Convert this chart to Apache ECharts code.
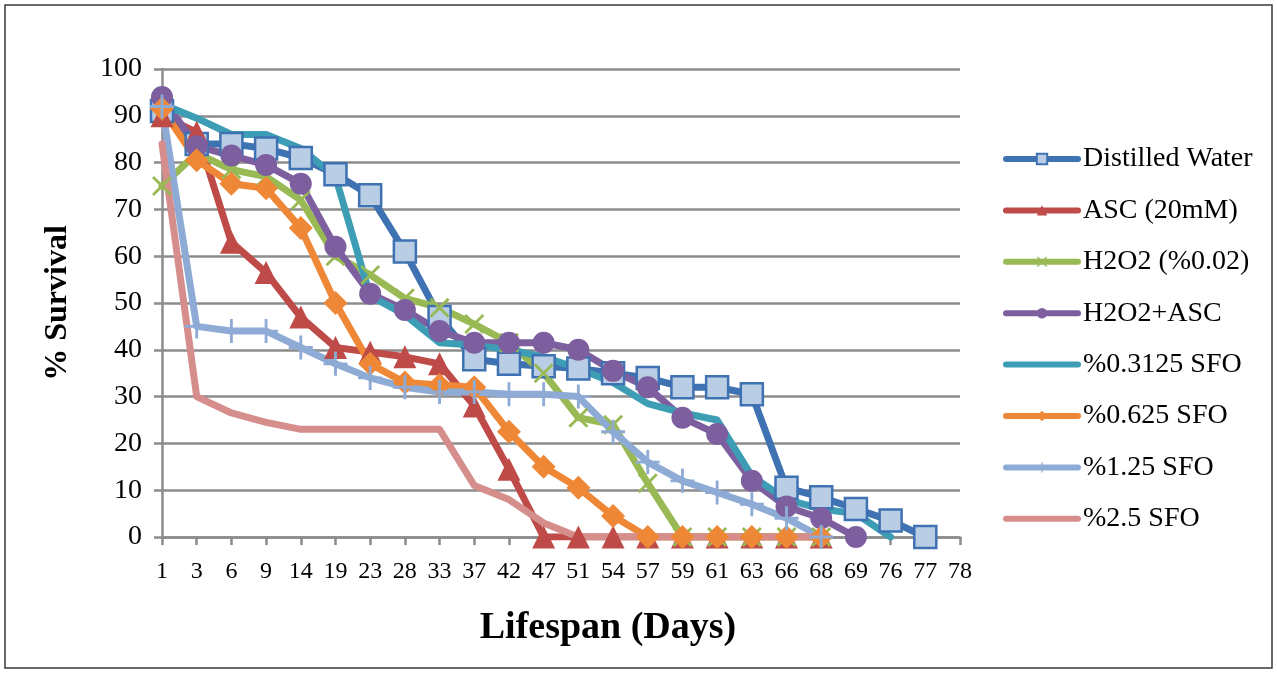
<!DOCTYPE html>
<html>
<head>
<meta charset="utf-8">
<script src="https://cdn.jsdelivr.net/npm/echarts@6/dist/echarts.min.js"></script>
<style>
  html, body { margin: 0; padding: 0; background: #fff; }
  #chart { width: 1277px; height: 675px; }
</style>
</head>
<body>
<div id="chart"></div>
<script>
// Lifespan (days) on the category axis
const days = ['1','3','6','9','14','19','23','28','33','37','42','47','51','54','57','59','61','63','66','68','69','76','77','78'];

// % survival for each treatment
const distilledWater = [91, 84, 84, 83, 81, 77.5, 73, 61, 47, 38, 37, 36.5, 36, 35, 34, 32, 32, 30.5, 10.5, 8.5, 6, 3.5, 0, null];
const asc20mM        = [90, 86.5, 63, 56.5, 47, 40.5, 39.5, 38.5, 37, 28, 14.5, 0, 0, 0, 0, 0, 0, 0, 0, 0, null, null, null, null];
const h2o2           = [75, 82, 78.5, 77, 72, 60, 56, 51, 49, 45.5, 41.5, 35, 25.5, 24, 11.5, 0, 0, 0, 0, 0, null, null, null, null];
const h2o2Asc        = [94, 83.5, 81.5, 79.5, 75.5, 62, 52, 48.5, 44, 41.5, 41.5, 41.5, 40, 35.5, 32, 25.5, 22, 12, 6.5, 4, 0, null, null, null];
const sfo03125       = [92.5, 89.5, 86, 86, 83, 77, 51.5, 47.5, 41.5, 41, 40, 38.5, 36, 33, 28.5, 26.5, 25, 13, 8, 6, 5, 0, null, null];
const sfo0625        = [91.5, 80.5, 75.5, 74.5, 66, 50, 37, 33, 32.5, 32, 22.5, 15, 10.5, 4.5, 0, 0, 0, 0, 0, 0, null, null, null, null];
const sfo125         = [92, 45, 44, 44, 40.5, 37, 34, 32, 31, 31, 30.5, 30.5, 30, 22.5, 16, 12, 9.5, 7, 4, 0, null, null, null, null];
const sfo25          = [84, 30, 26.5, 24.5, 23, 23, 23, 23, 23, 11, 8, 3, 0, 0, 0, 0, 0, 0, 0, 0, null, null, null, null];

const yTicks = { min: 0, max: 100, interval: 10 };

const serif = 'Liberation Serif';
const gridGray = '#8c8c8c';
const lineWidth = 7;
const crossPath = 'path://M0,1 L1,0 L5,4 L9,0 L10,1 L6,5 L10,9 L9,10 L5,6 L1,10 L0,9 L4,5 Z';
const plusPath = 'path://M4.4,0 H5.6 V4.4 H10 V5.6 H5.6 V10 H4.4 V5.6 H0 V4.4 H4.4 Z';

function lineSeries(name, data, lineColor, symbol, size, fill, border) {
  return {
    name: name,
    type: 'line',
    data: data,
    symbol: symbol,
    symbolSize: size,
    showSymbol: symbol !== 'none',
    connectNulls: false,
    lineStyle: { color: lineColor, width: lineWidth, cap: 'round', join: 'round' },
    itemStyle: {
      color: fill,
      borderColor: border || fill,
      borderWidth: border ? 2.5 : 0
    },
    emphasis: { disabled: true }
  };
}

const legendNames = ['Distilled Water', 'ASC (20mM)', 'H2O2 (%0.02)', 'H2O2+ASC', '%0.3125 SFO', '%0.625 SFO', '%1.25 SFO', '%2.5 SFO'];
const plainLineSeries = ['%0.3125 SFO', '%2.5 SFO'];

const chart = echarts.init(document.getElementById('chart'), null, { renderer: 'canvas' });

chart.setOption({
  animation: false,
  backgroundColor: '#ffffff',
  graphic: [{
    type: 'rect',
    shape: { x: 5, y: 5, width: 1267, height: 663 },
    style: { fill: 'none', stroke: '#3a3a3a', lineWidth: 1.5 },
    silent: true
  }, {
    type: 'text',
    x: 608,
    y: 628,
    style: {
      text: 'Lifespan (Days)',
      fontFamily: serif, fontSize: 38, fontWeight: 'bold', fill: '#000',
      align: 'center', verticalAlign: 'middle'
    },
    silent: true
  }],
  grid: { left: 162, right: 317, top: 69, bottom: 138 },
  legend: {
    orient: 'vertical',
    left: 1003,
    top: 145,
    padding: 0,
    itemWidth: 72,
    itemHeight: 13,
    itemGap: 23.4,
    lineStyle: { width: 6 },
    textStyle: { fontFamily: serif, fontSize: 28, lineHeight: 28, color: '#000' },
    data: legendNames.map(n => plainLineSeries.includes(n)
      ? { name: n, itemStyle: { opacity: 0 } }
      : { name: n })
  },
  xAxis: {
    type: 'category',
    data: days,
    boundaryGap: false,
    axisLine: { lineStyle: { color: gridGray, width: 2.5 } },
    axisTick: { show: true, interval: 0, length: 8, lineStyle: { color: gridGray, width: 2.5 } },
    axisLabel: { interval: 0, margin: 23, fontFamily: serif, fontSize: 24, color: '#000' },
    splitLine: { show: false }
  },
  yAxis: {
    type: 'value',
    min: yTicks.min,
    max: yTicks.max,
    interval: yTicks.interval,
    name: '% Survival',
    nameLocation: 'middle',
    nameGap: 88,
    nameTextStyle: { fontFamily: serif, fontSize: 32, fontWeight: 'bold', color: '#000' },
    axisLine: { show: true, lineStyle: { color: gridGray, width: 2.5 } },
    axisTick: { show: true, length: 8, lineStyle: { color: gridGray, width: 2.5 } },
    axisLabel: { margin: 20, fontFamily: serif, fontSize: 28, color: '#000' },
    splitLine: { show: true, lineStyle: { color: gridGray, width: 2.5 } }
  },
  series: [
    lineSeries('Distilled Water', distilledWater, '#3F72B2', 'rect', 22, '#B9CDE5', '#3F72B2'),
    lineSeries('ASC (20mM)', asc20mM, '#BE4B48', 'triangle', 23, '#BE4B48'),
    lineSeries('H2O2 (%0.02)', h2o2, '#98B954', crossPath, 20, '#98B954'),
    lineSeries('H2O2+ASC', h2o2Asc, '#7D5FA0', 'circle', 22, '#7D5FA0'),
    lineSeries('%0.3125 SFO', sfo03125, '#3C9DB5', 'none', 0, '#3C9DB5'),
    lineSeries('%0.625 SFO', sfo0625, '#EE8736', 'diamond', 24, '#EE8736'),
    lineSeries('%1.25 SFO', sfo125, '#8EABD6', plusPath, 24, '#8EABD6'),
    lineSeries('%2.5 SFO', sfo25, '#D68E8C', 'none', 0, '#D68E8C')
  ]
});
</script>
</body>
</html>
